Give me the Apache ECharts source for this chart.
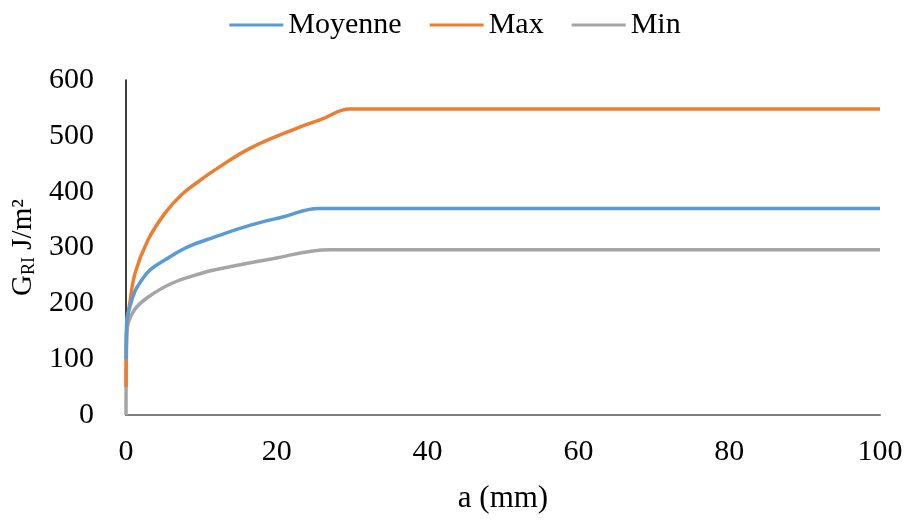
<!DOCTYPE html>
<html>
<head>
<meta charset="utf-8">
<script src="https://cdn.jsdelivr.net/npm/echarts@6/dist/echarts.min.js"></script>
<style>html,body{margin:0;padding:0;background:#fff}#c{width:910px;height:520px}</style>
</head>
<body>
<div id="c"></div>
<script>
var seriesNames = ['Moyenne', 'Max', 'Min'];
var moyenneX = [0, 0.1, 0.5, 1.2, 2.1, 3.2, 5.2, 8.2, 11.8, 16.5, 20.9, 25.5, 26.2, 100];
var moyenneY = [100, 168, 193, 222, 242, 260, 278, 301, 319, 340, 355, 370, 370, 370];
var maxX = [0, 0.1, 0.5, 1.2, 2.9, 5.2, 7.4, 9.8, 11.8, 16.5, 23.1, 25.8, 29.7, 30.4, 100];
var maxY = [50, 160, 200, 254, 313, 362, 395, 420, 439, 478, 516, 529, 548, 548, 548];
var minX = [0, 0.1, 0.3, 1.2, 2.9, 6.1, 9.8, 11.8, 18.7, 27.1, 27.8, 100];
var minY = [0, 140, 165, 190, 211, 236, 253, 260, 278, 296, 296, 296];
var colors = ['#5B9BD5', '#ED7D31', '#A5A5A5'];
var xTicks = [0, 20, 40, 60, 80, 100];
var yTicks = [0, 100, 200, 300, 400, 500, 600];

function pairs(xs, ys) { return xs.map(function (x, i) { return [x, ys[i]]; }); }
var allData = [pairs(moyenneX, moyenneY), pairs(maxX, maxY), pairs(minX, minY)];

var font = 'Liberation Serif';
var chart = echarts.init(document.getElementById('c'), null, {renderer: 'canvas'});
chart.setOption({
  animation: false,
  color: colors,
  textStyle: {fontFamily: font},
  legend: {
    top: 5, left: 'center', itemWidth: 54, itemHeight: 3, itemGap: 28,
    icon: 'rect',
    textStyle: {fontFamily: font, fontSize: 30, color: '#000'},
    data: seriesNames
  },
  grid: {left: 126, right: 30, top: 80, bottom: 105, containLabel: false},
  xAxis: {
    type: 'value', min: xTicks[0], max: xTicks[xTicks.length - 1], interval: 20,
    name: 'a (mm)', nameLocation: 'middle', nameGap: 68,
    nameTextStyle: {fontFamily: font, fontSize: 31, color: '#000'},
    axisLine: {show: true, lineStyle: {color: '#7f7f7f', width: 2}},
    axisTick: {show: false},
    splitLine: {show: false},
    axisLabel: {fontFamily: font, fontSize: 30, color: '#000', margin: 22}
  },
  yAxis: {
    type: 'value', min: yTicks[0], max: yTicks[yTicks.length - 1], interval: 100,
    name: '{g|G}{s|RI}{g| J/m²}', nameLocation: 'middle', nameGap: 72, nameRotate: 90,
    nameTextStyle: {
      fontFamily: font, color: '#000',
      rich: {
        g: {fontFamily: font, fontSize: 29, color: '#000'},
        s: {fontFamily: font, fontSize: 18, color: '#000', verticalAlign: 'bottom', padding: [10, 0, 0, 0]}
      }
    },
    axisLine: {show: true, lineStyle: {color: '#000', width: 1.5}},
    axisTick: {show: false},
    splitLine: {show: false},
    axisLabel: {fontFamily: font, fontSize: 30, color: '#000', margin: 32}
  },
  series: seriesNames.map(function (n, i) {
    return {
      name: n, type: 'line', data: allData[i], showSymbol: false, symbol: 'none',
      smooth: 0.4, lineStyle: {width: 3.5, color: colors[i]}, z: 3 - i
    };
  })
});
</script>
</body>
</html>
